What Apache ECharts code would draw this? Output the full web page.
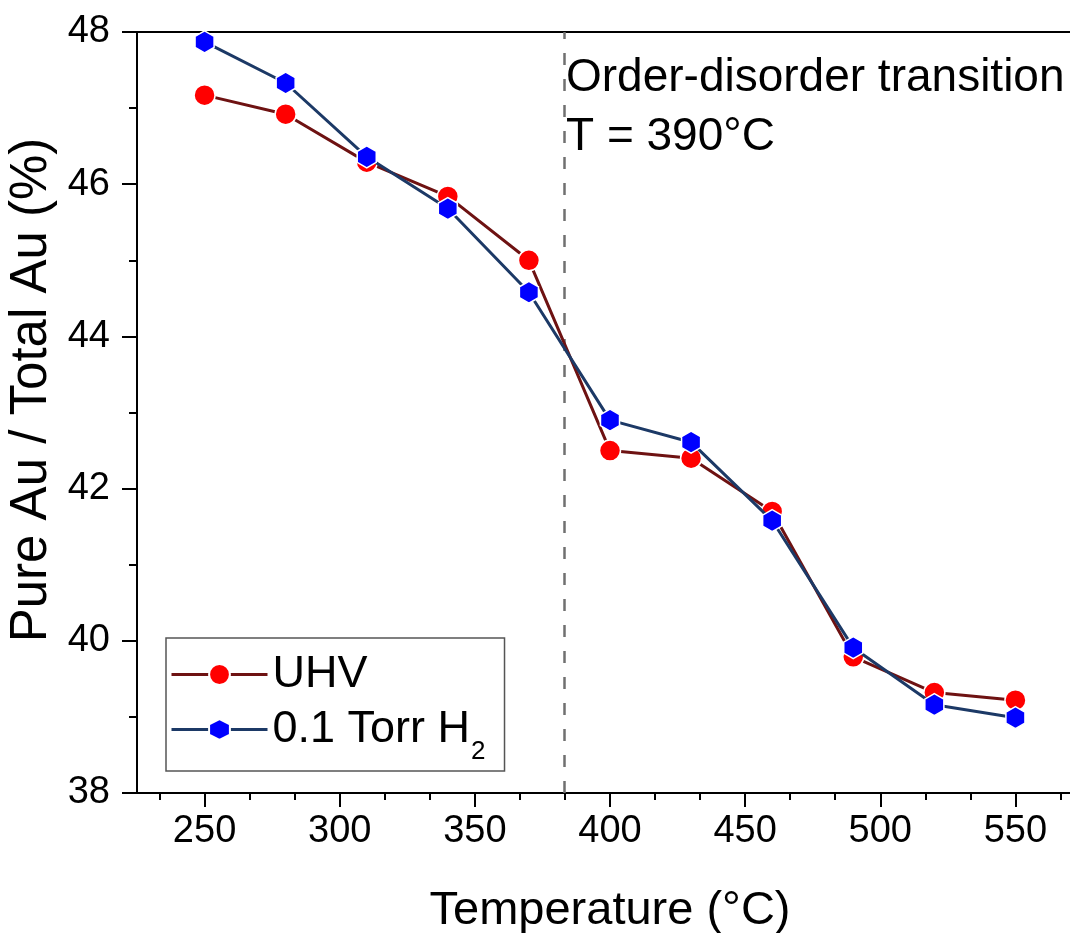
<!DOCTYPE html>
<html>
<head>
<meta charset="utf-8">
<script src="https://cdn.jsdelivr.net/npm/echarts@6/dist/echarts.min.js"></script>
<style>
  html, body { margin: 0; padding: 0; background: #fff; overflow: hidden; }
  #chart { width: 1070px; height: 933px; }
</style>
</head>
<body>
<div id="chart"></div>
<script>
// Annealing temperature (°C)
const temperatures = [250, 280, 310, 340, 370, 400, 430, 460, 490, 520, 550];
// Pure Au / total Au (%) under UHV
const uhvRatio = [47.17, 46.92, 46.29, 45.84, 45.00, 42.50, 42.40, 41.70, 39.79, 39.32, 39.22];
// Pure Au / total Au (%) under 0.1 Torr H2
const h2Ratio = [47.87, 47.33, 46.36, 45.68, 44.58, 42.90, 42.61, 41.58, 39.91, 39.16, 38.99];

const seriesNames = ['UHV', '0.1 Torr H2'];
const xMajorTicks = [250, 300, 350, 400, 450, 500, 550];
const xMinorTicks = [233.33, 266.67, 283.33, 316.67, 333.33, 366.67, 383.33, 416.67,
                     433.33, 466.67, 483.33, 516.67, 533.33, 566.67];
const transitionLine = 383;
const annotationLines = ['Order-disorder transition', 'T = 390\u00B0C'];

const FONT = "'Liberation Sans', Arial, Helvetica, sans-serif";
const AXIS_LINE = { color: '#000', width: 2 };
const HEXAGON = 'path://M0,-10 L8.66,-5 L8.66,5 L0,10 L-8.66,5 L-8.66,-5 Z';

const chart = echarts.init(document.getElementById('chart'), null, { renderer: 'canvas' });

const xBase = { type: 'value', min: 225, max: 575, splitLine: { show: false } };

chart.setOption({
  animation: false,
  backgroundColor: '#fff',
  textStyle: { fontFamily: FONT, color: '#000' },
  grid: { left: 137, right: -13, top: 32, bottom: 140, containLabel: false, outerBoundsMode: 'none' },
  xAxis: [
    Object.assign({}, xBase, {
      position: 'bottom',
      axisLine: { show: true, onZero: false, lineStyle: AXIS_LINE },
      axisTick: { show: true, inside: false, length: 14, customValues: xMajorTicks, lineStyle: AXIS_LINE },
      axisLabel: { show: true, customValues: xMajorTicks, fontSize: 38, fontFamily: FONT, color: '#000', margin: 20 },
      name: 'Temperature (\u00B0C)',
      nameLocation: 'middle',
      nameGap: 95,
      nameTextStyle: { fontSize: 47, fontFamily: FONT, color: '#000' }
    }),
    Object.assign({}, xBase, {
      position: 'bottom',
      axisLine: { show: false, onZero: false },
      axisTick: { show: true, inside: false, length: 7, customValues: xMinorTicks, lineStyle: AXIS_LINE },
      axisLabel: { show: false }
    }),
    Object.assign({}, xBase, {
      position: 'top',
      axisLine: { show: true, onZero: false, lineStyle: AXIS_LINE },
      axisTick: { show: false },
      axisLabel: { show: false }
    })
  ],
  yAxis: {
    type: 'value',
    min: 38,
    max: 48,
    interval: 2,
    position: 'left',
    axisLine: { show: true, onZero: false, lineStyle: AXIS_LINE },
    axisTick: { show: true, inside: false, length: 15, lineStyle: AXIS_LINE },
    minorTick: { show: true, splitNumber: 2, length: 8, lineStyle: AXIS_LINE },
    axisLabel: { fontSize: 38, fontFamily: FONT, color: '#000', margin: 27 },
    splitLine: { show: false },
    minorSplitLine: { show: false }
  },
  legend: {
    data: seriesNames,
    orient: 'vertical',
    left: 166,
    top: 638,
    itemWidth: 96,
    itemHeight: 26,
    itemGap: -3,
    padding: [14, 19, 6, 4],
    borderColor: '#555',
    borderWidth: 1.5,
    selectedMode: false,
    lineStyle: { width: 3 },
    formatter: function (name) {
      return name === seriesNames[1] ? '{n|0.1 Torr H}{s|2}' : '{n|' + name + '}';
    },
    textStyle: {
      fontFamily: FONT,
      color: '#000',
      fontSize: 45,
      rich: {
        n: { fontSize: 45, lineHeight: 50, fontFamily: FONT, color: '#000' },
        s: { fontSize: 26, lineHeight: 26, padding: [45, 0, 0, 1], fontFamily: FONT, color: '#000' }
      }
    }
  },
  series: [
    {
      name: seriesNames[0],
      type: 'line',
      data: temperatures.map((t, i) => [t, uhvRatio[i]]),
      symbol: 'circle',
      symbolSize: 21,
      itemStyle: { color: '#ff0000', borderColor: '#fff', borderWidth: 1.5 },
      lineStyle: { color: '#6e1212', width: 3 },
      z: 3,
      markLine: {
        silent: true,
        symbol: 'none',
        label: { show: false },
        lineStyle: { type: [12, 14], color: '#707070', width: 2.5 },
        data: [{ xAxis: transitionLine }],
        z: 1
      }
    },
    {
      name: seriesNames[1],
      type: 'line',
      data: temperatures.map((t, i) => [t, h2Ratio[i]]),
      symbol: HEXAGON,
      symbolKeepAspect: true,
      symbolSize: 22,
      itemStyle: { color: '#0000ff', borderColor: '#fff', borderWidth: 1.5 },
      lineStyle: { color: '#1c3966', width: 3 },
      z: 4
    }
  ],
  graphic: [
    {
      type: 'text',
      x: 32,
      y: 390,
      rotation: Math.PI / 2,
      style: {
        text: 'Pure Au / Total Au (%)',
        fontSize: 51,
        fontFamily: FONT,
        fill: '#000',
        align: 'center',
        verticalAlign: 'middle'
      }
    },
    {
      type: 'text',
      x: 566,
      y: 78,
      style: { text: annotationLines[0], fontSize: 46, fontFamily: FONT, fill: '#000', align: 'left', verticalAlign: 'middle' }
    },
    {
      type: 'text',
      x: 566,
      y: 137,
      style: { text: annotationLines[1], fontSize: 46, fontFamily: FONT, fill: '#000', align: 'left', verticalAlign: 'middle' }
    }
  ]
});
</script>
</body>
</html>
